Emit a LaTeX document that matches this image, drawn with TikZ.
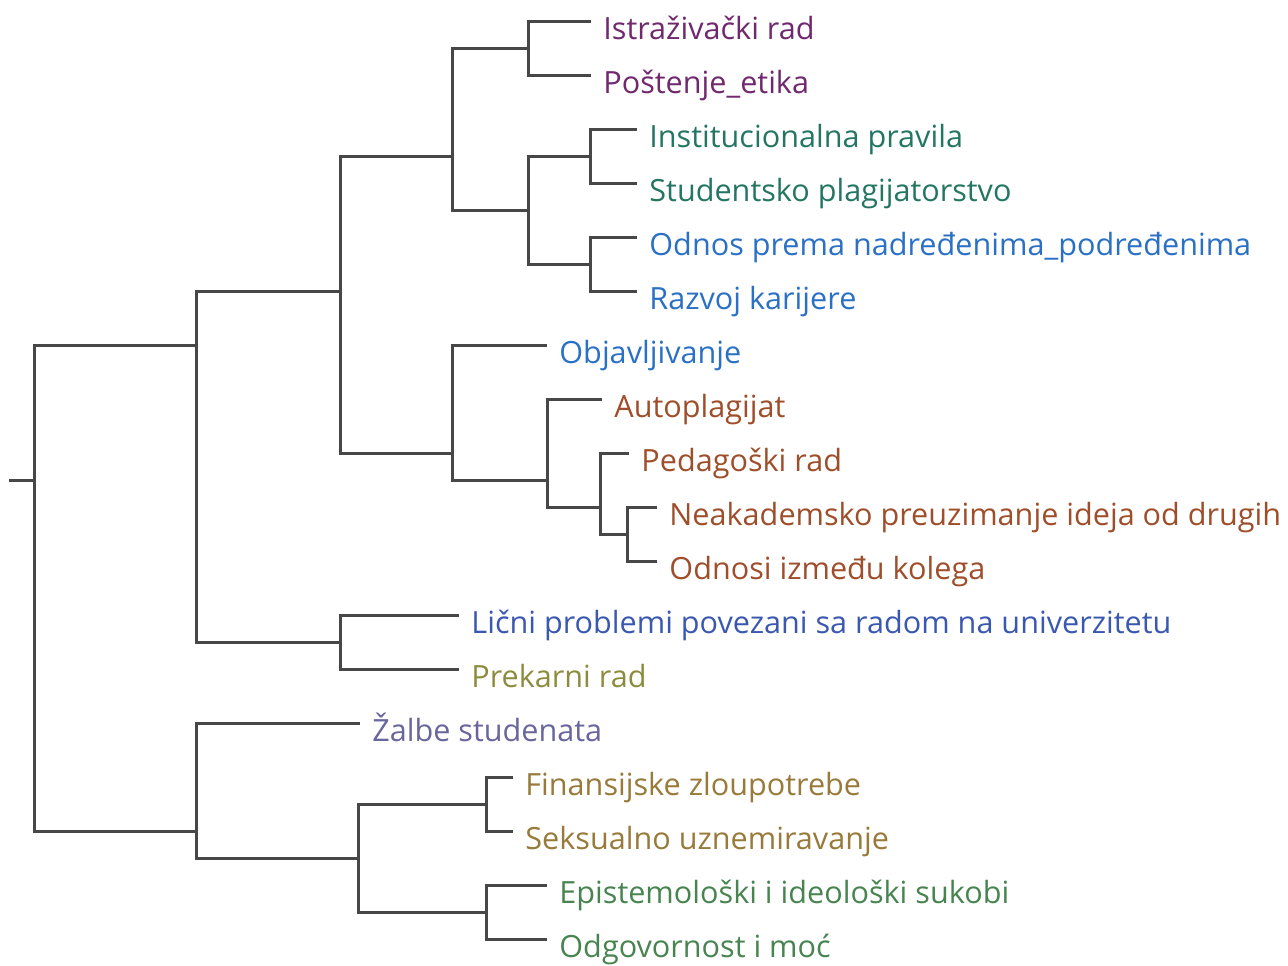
\documentclass[tikz,border=0pt]{standalone}
\usepackage{fontspec}
\setmainfont{Open Sans}
\begin{document}
\begin{tikzpicture}[x=0.5pt,y=-0.5pt,
  branch/.style={draw=black!72, line width=1.5pt, line cap=rect},
  lbl/.style={anchor=base west, inner sep=0pt, font=\fontsize{15.3pt}{17pt}\selectfont},
  cPurple/.style={lbl, text=ethPurple},
  cTeal/.style={lbl, text=instTeal},
  cBlue/.style={lbl, text=pubBlue},
  cBrown/.style={lbl, text=collBrown},
  cIndigo/.style={lbl, text=persIndigo},
  cOlive/.style={lbl, text=precOlive},
  cGrey/.style={lbl, text=compGrey},
  cTan/.style={lbl, text=abuseTan},
  cGreen/.style={lbl, text=powGreen},
  tip/.style={xshift=7pt,yshift=-9pt}]
\definecolor{ethPurple}{RGB}{112,40,110}
\definecolor{instTeal}{RGB}{36,118,98}
\definecolor{pubBlue}{RGB}{42,112,196}
\definecolor{collBrown}{RGB}{158,78,42}
\definecolor{persIndigo}{RGB}{58,88,176}
\definecolor{precOlive}{RGB}{140,140,62}
\definecolor{compGrey}{RGB}{104,102,156}
\definecolor{abuseTan}{RGB}{152,122,58}
\definecolor{powGreen}{RGB}{72,132,80}

\useasboundingbox (0,0) rectangle (1288,965);

% internal merge points of the tree
\coordinate (S)   at (10,480);
\coordinate (R)   at (34,480);
\coordinate (B)   at (196,345);
\coordinate (C)   at (196,831);
\coordinate (D)   at (340,291);
\coordinate (E)   at (340,642);
\coordinate (F)   at (452,156);
\coordinate (G)   at (452,453);
\coordinate (F1)  at (528,48);
\coordinate (F2)  at (528,210);
\coordinate (F2a) at (590,156);
\coordinate (F2b) at (590,264);
\coordinate (G1)  at (547,480);
\coordinate (G2)  at (600,507);
\coordinate (G3)  at (627,534);
\coordinate (C2)  at (358,858);
\coordinate (C2a) at (486,804);
\coordinate (C2b) at (486,912);

% leaf line ends
\coordinate (L0)  at (589,21);
\coordinate (L1)  at (589,75);
\coordinate (L2)  at (635,129);
\coordinate (L3)  at (635,183);
\coordinate (L4)  at (635,237);
\coordinate (L5)  at (635,291);
\coordinate (L6)  at (545,345);
\coordinate (L7)  at (600,399);
\coordinate (L8)  at (627,453);
\coordinate (L9)  at (655,507);
\coordinate (L10) at (655,561);
\coordinate (L11) at (457,615);
\coordinate (L12) at (457,669);
\coordinate (L13) at (358,723);
\coordinate (L14) at (511,777);
\coordinate (L15) at (511,831);
\coordinate (L16) at (545,885);
\coordinate (L17) at (545,939);

% labels
\node[cPurple] (t0)  at ([tip]L0)  {Istraživački rad};
\node[cPurple] (t1)  at ([tip]L1)  {Poštenje\_etika};
\node[cTeal]   (t2)  at ([tip]L2)  {Institucionalna pravila};
\node[cTeal]   (t3)  at ([tip]L3)  {Studentsko plagijatorstvo};
\node[cBlue]   (t4)  at ([tip]L4)  {Odnos prema nadređenima\_podređenima};
\node[cBlue]   (t5)  at ([tip]L5)  {Razvoj karijere};
\node[cBlue]   (t6)  at ([tip]L6)  {Objavljivanje};
\node[cBrown]  (t7)  at ([tip]L7)  {Autoplagijat};
\node[cBrown]  (t8)  at ([tip]L8)  {Pedagoški rad};
\node[cBrown]  (t9)  at ([tip]L9)  {Neakademsko preuzimanje ideja od drugih};
\node[cBrown]  (t10) at ([tip]L10) {Odnosi između kolega};
\node[cIndigo] (t11) at ([tip]L11) {Lični problemi povezani sa radom na univerzitetu};
\node[cOlive]  (t12) at ([tip]L12) {Prekarni rad};
\node[cGrey]   (t13) at ([tip]L13) {Žalbe studenata};
\node[cTan]    (t14) at ([tip]L14) {Finansijske zloupotrebe};
\node[cTan]    (t15) at ([tip]L15) {Seksualno uznemiravanje};
\node[cGreen]  (t16) at ([tip]L16) {Epistemološki i ideološki sukobi};
\node[cGreen]  (t17) at ([tip]L17) {Odgovornost i moć};

% branches
\draw[branch] (S) -- (R);
\draw[branch] (R) |- (B);  \draw[branch] (R) |- (C);
\draw[branch] (B) |- (D);  \draw[branch] (B) |- (E);
\draw[branch] (D) |- (F);  \draw[branch] (D) |- (G);
\draw[branch] (F) |- (F1); \draw[branch] (F) |- (F2);
\draw[branch] (F1) |- (L0); \draw[branch] (F1) |- (L1);
\draw[branch] (F2) |- (F2a); \draw[branch] (F2) |- (F2b);
\draw[branch] (F2a) |- (L2); \draw[branch] (F2a) |- (L3);
\draw[branch] (F2b) |- (L4); \draw[branch] (F2b) |- (L5);
\draw[branch] (G) |- (L6);  \draw[branch] (G) |- (G1);
\draw[branch] (G1) |- (L7); \draw[branch] (G1) |- (G2);
\draw[branch] (G2) |- (L8); \draw[branch] (G2) |- (G3);
\draw[branch] (G3) |- (L9); \draw[branch] (G3) |- (L10);
\draw[branch] (E) |- (L11); \draw[branch] (E) |- (L12);
\draw[branch] (C) |- (L13); \draw[branch] (C) |- (C2);
\draw[branch] (C2) |- (C2a); \draw[branch] (C2) |- (C2b);
\draw[branch] (C2a) |- (L14); \draw[branch] (C2a) |- (L15);
\draw[branch] (C2b) |- (L16); \draw[branch] (C2b) |- (L17);
\end{tikzpicture}
\end{document}
